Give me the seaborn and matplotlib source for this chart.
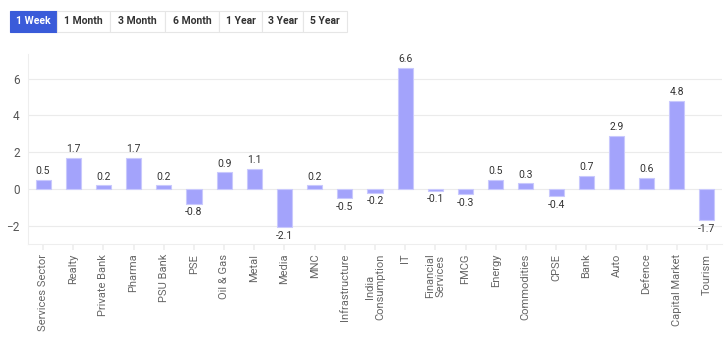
import matplotlib
matplotlib.use("Agg")
import matplotlib.pyplot as plt
import seaborn as sns
import pandas as pd
from matplotlib.patches import Rectangle

sectors = ["Services Sector", "Realty", "Private Bank", "Pharma", "PSU Bank", "PSE",
           "Oil & Gas", "Metal", "Media", "MNC", "Infrastructure", "India\nConsumption",
           "IT", "Financial\nServices", "FMCG", "Energy", "Commodities", "CPSE", "Bank",
           "Auto", "Defence", "Capital Market", "Tourism"]
returns = [0.5, 1.7, 0.2, 1.7, 0.2, -0.8, 0.9, 1.1, -2.1, 0.2, -0.5, -0.2,
           6.6, -0.1, -0.3, 0.5, 0.3, -0.4, 0.7, 2.9, 0.6, 4.8, -1.7]
periods = ["1 Week", "1 Month", "3 Month", "6 Month", "1 Year", "3 Year", "5 Year"]

sns.set_theme(style="white")
plt.rcParams['font.family'] = ['Roboto', 'DejaVu Sans']

df = pd.DataFrame({'sector': sectors, 'ret': returns})

W, H = 727, 352
fig = plt.figure(figsize=(W / 100, H / 100), dpi=100)
ax = fig.add_axes([28 / W, 1 - 244 / H, (722 - 28) / W, (244 - 54) / H])

sns.barplot(data=df, x='sector', y='ret', ax=ax, color='#a3a3fb', width=0.5,
            saturation=1, edgecolor='#c9c9fd', linewidth=0.8)

# value labels above / below each bar
for i, v in enumerate(returns):
    off = 0.2 if v >= 0 else -0.2
    ax.text(i, v + off, f"{v:.1f}", ha='center', va='bottom' if v >= 0 else 'top',
            fontsize=7.5, color='#333333')

ax.set_ylim(-3, 7.35)
ax.set_xlim(-0.5, len(sectors) - 0.5)
ax.set_yticks([-2, 0, 2, 4, 6])
ax.yaxis.grid(True, color='#ebebeb', linewidth=0.8)
ax.set_axisbelow(True)
ax.set_xlabel('')
ax.set_ylabel('')
for s in ['top', 'right']:
    ax.spines[s].set_visible(False)
for s in ['left', 'bottom']:
    ax.spines[s].set_color('#eeeeee')
    ax.spines[s].set_linewidth(0.8)
ax.tick_params(axis='y', labelsize=8.5, labelcolor='#555555', length=0, pad=6)
ax.tick_params(axis='x', labelsize=8, labelcolor='#666666', length=4, color='#eeeeee',
               bottom=True, pad=3)
plt.setp(ax.get_xticklabels(), rotation=90, va='top', ha='center', linespacing=1.0)

# period buttons
edges = [10, 57, 110, 165, 219, 262, 303, 347]
y0, y1 = 11, 32
for k, p in enumerate(periods):
    x0, x1 = edges[k], edges[k + 1]
    active = k == 0
    fig.patches.append(Rectangle((x0 / W, 1 - y1 / H), (x1 - x0) / W, (y1 - y0) / H,
                                 transform=fig.transFigure,
                                 facecolor='#3a5bd9' if active else 'white',
                                 edgecolor='#3a5bd9' if active else '#e6e6e6',
                                 linewidth=0.8))
    fig.text((x0 + x1) / 2 / W, 1 - (y0 + y1) / 2 / H, p, ha='center', va='center',
             fontsize=7.5, fontweight='bold', color='white' if active else '#333333')

fig.savefig('out.png', dpi=100)
